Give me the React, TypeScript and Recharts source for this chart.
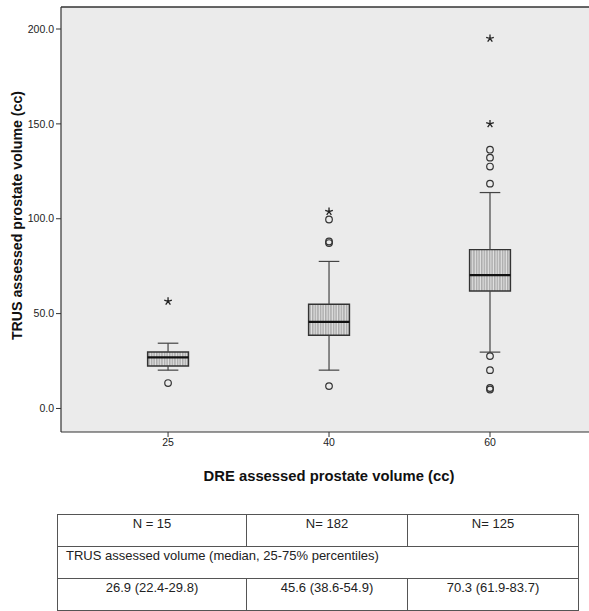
import React from 'react';
import {
  ComposedChart,
  XAxis,
  YAxis,
  Scatter,
  ReferenceArea,
  ReferenceLine,
} from 'recharts';

const categories = ['25', '40', '60'];
const q1 = [22.4, 38.6, 61.9];
const median = [26.9, 45.6, 70.3];
const q3 = [29.8, 54.9, 83.7];
const whiskerLow = [20.2, 20.2, 29.7];
const whiskerHigh = [34.4, 77.5, 113.8];
const circleOutliers = [
  [13.4],
  [11.8, 87.2, 88.0, 99.6],
  [118.5, 127.5, 132.2, 136.4, 27.6, 20.2, 10.0, 10.8],
];
const starOutliers = [[56.5], [103.8], [150.0, 195.0]];
const yTicks = [0, 50, 100, 150, 200];
const tableCounts = ['N = 15', 'N= 182', 'N= 125'];
const tableHeader = 'TRUS assessed volume (median, 25-75% percentiles)';
const tableSummary = ['26.9 (22.4-29.8)', '45.6 (38.6-54.9)', '70.3 (61.9-83.7)'];

const X_DOMAIN: [number, number] = [-0.665, 2.615];
const Y_DOMAIN: [number, number] = [-12.4, 211.6];
const BOX_HALF = 0.127;
const CAP_HALF = 0.064;

const circleData = circleOutliers.flatMap((vals, i) => vals.map((v) => ({ x: i, y: v })));
const starData = starOutliers.flatMap((vals, i) => vals.map((v) => ({ x: i, y: v })));

const CircleShape = (props: any) => (
  <circle cx={props.cx} cy={props.cy} r={3.3} fill="none" stroke="#333" strokeWidth={1.2} />
);

const StarShape = (props: any) => {
  const { cx, cy } = props;
  const r = 4;
  const arms = [90, 18, 162, 234, 306].map((a) => {
    const rad = (a * Math.PI) / 180;
    return `M${cx},${cy}L${cx + r * Math.cos(rad)},${cy - r * Math.sin(rad)}`;
  });
  return <path d={arms.join('')} stroke="#222" strokeWidth={1.3} fill="none" />;
};

const YLabel = (props: any) => {
  const vb = props.viewBox || { x: 0, y: 0, width: 0, height: 0 };
  const x = vb.x + 17;
  const y = vb.y + vb.height / 2 - 4;
  return (
    <text
      x={x}
      y={y}
      transform={`rotate(-90 ${x} ${y})`}
      textAnchor="middle"
      dominantBaseline="central"
      fontFamily="Liberation Sans, Arial, sans-serif"
      fontWeight="bold"
      fontSize={14.2}
      fill="#111"
    >
      TRUS assessed prostate volume (cc)
    </text>
  );
};

const XLabel = (props: any) => {
  const vb = props.viewBox || { x: 0, y: 0, width: 0, height: 0 };
  const x = vb.x + vb.width / 2 + 4;
  const y = vb.y + 44;
  return (
    <text
      x={x}
      y={y}
      textAnchor="middle"
      dominantBaseline="central"
      fontFamily="Liberation Sans, Arial, sans-serif"
      fontWeight="bold"
      fontSize={14.8}
      fill="#111"
    >
      DRE assessed prostate volume (cc)
    </text>
  );
};

const cellStyle: React.CSSProperties = {
  border: '1px solid #555',
  height: 32,
  padding: '1px 0 0 0',
  verticalAlign: 'top',
  textAlign: 'center',
  fontFamily: 'Liberation Sans, Arial, sans-serif',
  fontSize: 13,
  lineHeight: '15px',
  color: '#222',
  boxSizing: 'border-box',
};

export default function App() {
  return (
    <div style={{ position: 'absolute', left: 0, top: 0, width: 589, height: 611, background: '#fff', overflow: 'hidden' }}>
      <svg width={0} height={0} style={{ position: 'absolute' }}>
        <defs>
          <pattern id="hatch" width={2.6} height={4} patternUnits="userSpaceOnUse">
            <rect x={0} y={0} width={2.6} height={4} fill="#e2e2e2" />
            <line x1={0.8} y1={0} x2={0.8} y2={4} stroke="#888" strokeWidth={0.9} />
          </pattern>
        </defs>
      </svg>
      <ComposedChart
        width={589}
        height={500}
        margin={{ top: 7, right: 0, bottom: 18, left: 0 }}
      >
        <XAxis
          type="number"
          dataKey="x"
          domain={X_DOMAIN}
          ticks={[0, 1, 2]}
          allowDataOverflow
          tickFormatter={(v: number) => categories[v]}
          height={50}
          tickSize={5}
          tickLine={{ stroke: '#333' }}
          axisLine={{ stroke: '#333', strokeWidth: 1.2 }}
          tick={{ fontSize: 10.5, fill: '#222', fontFamily: 'Liberation Sans, Arial, sans-serif' }}
          label={<XLabel />}
        />
        <YAxis
          type="number"
          domain={Y_DOMAIN}
          ticks={yTicks}
          allowDataOverflow
          tickFormatter={(v: number) => v.toFixed(1)}
          width={61}
          tickSize={5}
          tickLine={{ stroke: '#333' }}
          axisLine={{ stroke: '#333', strokeWidth: 1.2 }}
          tick={{ fontSize: 10.5, fill: '#222', fontFamily: 'Liberation Sans, Arial, sans-serif' }}
          label={<YLabel />}
        />
        <ReferenceArea
          x1={X_DOMAIN[0]}
          x2={X_DOMAIN[1]}
          y1={Y_DOMAIN[0]}
          y2={Y_DOMAIN[1]}
          fill="#ebebeb"
          fillOpacity={1}
          stroke="none"
        />
        <ReferenceLine y={Y_DOMAIN[1]} stroke="#333" strokeWidth={1.4} ifOverflow="visible" />
        {categories.map((c, i) => (
          <ReferenceLine
            key={`wl${c}`}
            segment={[{ x: i, y: whiskerLow[i] }, { x: i, y: q1[i] }]}
            stroke="#444"
            strokeWidth={1.2}
          />
        ))}
        {categories.map((c, i) => (
          <ReferenceLine
            key={`wh${c}`}
            segment={[{ x: i, y: q3[i] }, { x: i, y: whiskerHigh[i] }]}
            stroke="#444"
            strokeWidth={1.2}
          />
        ))}
        {categories.map((c, i) => (
          <ReferenceLine
            key={`cl${c}`}
            segment={[{ x: i - CAP_HALF, y: whiskerLow[i] }, { x: i + CAP_HALF, y: whiskerLow[i] }]}
            stroke="#444"
            strokeWidth={1.2}
          />
        ))}
        {categories.map((c, i) => (
          <ReferenceLine
            key={`ch${c}`}
            segment={[{ x: i - CAP_HALF, y: whiskerHigh[i] }, { x: i + CAP_HALF, y: whiskerHigh[i] }]}
            stroke="#444"
            strokeWidth={1.2}
          />
        ))}
        {categories.map((c, i) => (
          <ReferenceArea
            key={`box${c}`}
            x1={i - BOX_HALF}
            x2={i + BOX_HALF}
            y1={q1[i]}
            y2={q3[i]}
            fill="url(#hatch)"
            fillOpacity={1}
            stroke="#333"
            strokeWidth={1.4}
          />
        ))}
        {categories.map((c, i) => (
          <ReferenceLine
            key={`med${c}`}
            segment={[{ x: i - BOX_HALF, y: median[i] }, { x: i + BOX_HALF, y: median[i] }]}
            stroke="#111"
            strokeWidth={2.2}
          />
        ))}
        <Scatter data={circleData} dataKey="y" shape={<CircleShape />} isAnimationActive={false} />
        <Scatter data={starData} dataKey="y" shape={<StarShape />} isAnimationActive={false} />
      </ComposedChart>
      <table
        style={{
          position: 'absolute',
          left: 57,
          top: 514,
          width: 521,
          borderCollapse: 'collapse',
          tableLayout: 'fixed',
        }}
      >
        <colgroup>
          <col style={{ width: 189 }} />
          <col style={{ width: 161 }} />
          <col style={{ width: 171 }} />
        </colgroup>
        <tbody>
          <tr>
            {tableCounts.map((t) => (
              <td key={t} style={cellStyle}>{t}</td>
            ))}
          </tr>
          <tr>
            <td colSpan={3} style={{ ...cellStyle, textAlign: 'left', paddingLeft: 8 }}>
              {tableHeader}
            </td>
          </tr>
          <tr>
            {tableSummary.map((t) => (
              <td key={t} style={cellStyle}>{t}</td>
            ))}
          </tr>
        </tbody>
      </table>
    </div>
  );
}
